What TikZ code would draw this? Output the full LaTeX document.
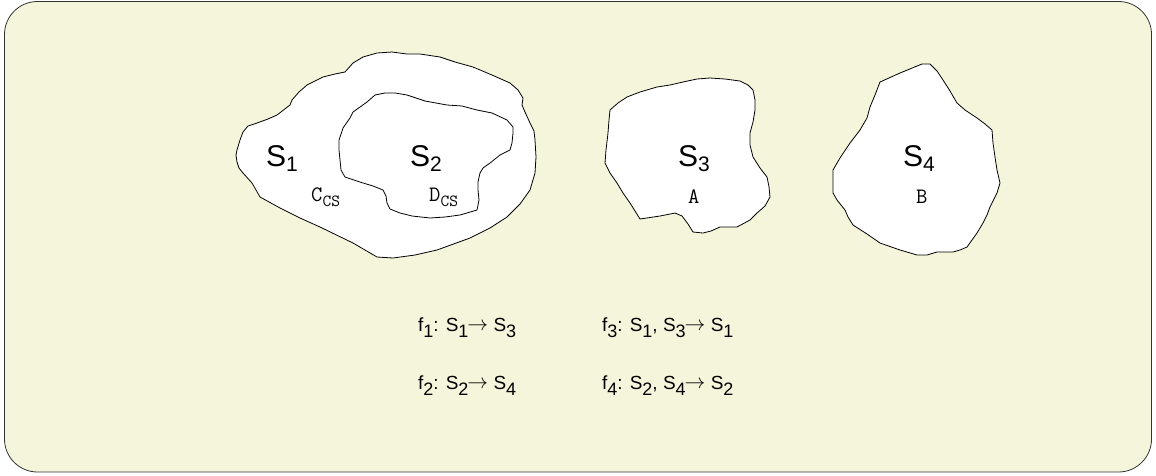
\documentclass[tikz,border=0pt]{standalone}
\usepackage{fontspec}
\setmainfont{Liberation Sans}
\definecolor{bgc}{HTML}{F5F5DC}
\newcommand\bsub[1]{\raisebox{-5pt}{\fontsize{21}{21}\selectfont #1}}
\newcommand\fsub[1]{\raisebox{-6pt}{\fontsize{18}{18}\selectfont #1}}
\newcommand\msub[1]{\raisebox{-5pt}{\fontsize{17}{17}\selectfont #1}}
\newcommand\farrow{\kern-1pt\raisebox{1pt}{\fontsize{22}{22}\selectfont$\rightarrow$}}
\begin{document}
\begin{tikzpicture}[x=1pt,y=-1pt,
  blob/.style={draw=black,fill=white,line width=0.8pt,line join=round},
  biglabel/.style={inner sep=0pt,anchor=base west,font=\fontsize{30}{30}\selectfont},
  monolabel/.style={inner sep=0pt,anchor=base west,font=\ttfamily\fontsize{22}{22}\selectfont},
  funclabel/.style={inner sep=0pt,anchor=base west,font=\fontsize{19}{19}\selectfont}]
\useasboundingbox (0,0) rectangle (1156,475);
\draw[fill=bgc,draw=black!80,rounded corners=33pt,line width=0.8pt] (4.5,1.5) rectangle (1151.5,472);
% S1 outer
\draw[blob] (377,53) -- (392,52) -- (407,54) -- (420,54) -- (440,57) -- (455,62) -- (473,67) -- (492,75) -- (510,83) -- (518,90) -- (523,98) -- (522,105) -- (525,112) -- (530,123) -- (534,131) -- (535,140) -- (536,157) -- (535,173) -- (530,190) -- (520,204) -- (507,217) -- (490,228) -- (470,238) -- (437,250) -- (415,255) -- (393,258) -- (377,257) -- (365,250) -- (353,243) -- (320,227) -- (300,218) -- (280,208) -- (260,197) -- (252,183) -- (243,173) -- (239,168) -- (237,162) -- (236,155) -- (237,150) -- (240,140) -- (243,132) -- (248,126) -- (257,123) -- (268,119) -- (277,115) -- (290,105) -- (292,100) -- (299,92) -- (307,85) -- (323,77) -- (335,74) -- (345,72) -- (353,63) -- (363,57) -- cycle;
% S2 inner
\draw[blob] (385,93) -- (395,93) -- (407,95) -- (425,101) -- (447,105) -- (462,106) -- (477,110) -- (492,113) -- (507,120) -- (513,127) -- (513,133) -- (512,143) -- (510,150) -- (500,155) -- (490,163) -- (483,168) -- (480,173) -- (478,182) -- (478,190) -- (479,200) -- (477,210) -- (460,215) -- (445,217) -- (430,218) -- (412,216) -- (400,213) -- (390,209) -- (387,203) -- (386,196) -- (383,190) -- (373,186) -- (363,183) -- (345,177) -- (341,170) -- (340,160) -- (339,150) -- (339,140) -- (343,128) -- (350,118) -- (353,112) -- (360,107) -- (367,102) -- (375,95) -- cycle;
% S3
\draw[blob] (610,110) -- (618,103) -- (627,97) -- (640,92) -- (657,87) -- (670,85) -- (683,82) -- (697,79) -- (710,78) -- (725,79) -- (740,81) -- (748,85) -- (753,90) -- (755,100) -- (755,110) -- (753,122) -- (750,133) -- (750,145) -- (753,157) -- (760,168) -- (767,177) -- (769,187) -- (770,197) -- (765,206) -- (757,213) -- (750,220) -- (737,227) -- (720,227) -- (711,231) -- (703,233) -- (693,232) -- (688,224) -- (682,216) -- (675,213) -- (660,216) -- (640,219) -- (630,203) -- (623,193) -- (617,183) -- (610,173) -- (605,163) -- (606,150) -- (608,133) -- (609,120) -- cycle;
% S4
\draw[blob] (922,64) -- (930,64) -- (937,71) -- (943,80) -- (950,91) -- (957,103) -- (965,110) -- (977,118) -- (985,124) -- (992,130) -- (993,143) -- (995,157) -- (997,170) -- (1000,183) -- (997,193) -- (990,207) -- (987,215) -- (983,223) -- (977,233) -- (972,240) -- (967,247) -- (960,250) -- (953,252) -- (945,252) -- (937,252) -- (927,255) -- (917,255) -- (900,250) -- (880,243) -- (867,234) -- (853,225) -- (848,217) -- (845,210) -- (837,200) -- (833,193) -- (833,180) -- (833,170) -- (840,158) -- (850,143) -- (860,130) -- (867,118) -- (870,107) -- (875,95) -- (880,82) -- (900,73) -- cycle;
% labels
\node[biglabel] (s1) at (266,166) {S\bsub{1}};
\node[biglabel] (s2) at (410,166) {S\bsub{2}};
\node[biglabel] (s3) at (678,166) {S\bsub{3}};
\node[biglabel] (s4) at (903,166) {S\bsub{4}};
\node[monolabel] (ccs) at (311,201) {C\msub{CS}};
\node[monolabel] (dcs) at (429,201) {D\msub{CS}};
\node[monolabel] (a) at (688,203) {A};
\node[monolabel] (b) at (916,203) {B};
\node[funclabel] (f1) at (418,331) {f\fsub{1}: S\fsub{1}\farrow\ S\fsub{3}};
\node[funclabel] (f3) at (602,331) {f\fsub{3}: S\fsub{1}, S\fsub{3}\farrow\ S\fsub{1}};
\node[funclabel] (f2) at (418,389) {f\fsub{2}: S\fsub{2}\farrow\ S\fsub{4}};
\node[funclabel] (f4) at (602,389) {f\fsub{4}: S\fsub{2}, S\fsub{4}\farrow\ S\fsub{2}};
\end{tikzpicture}
\end{document}
